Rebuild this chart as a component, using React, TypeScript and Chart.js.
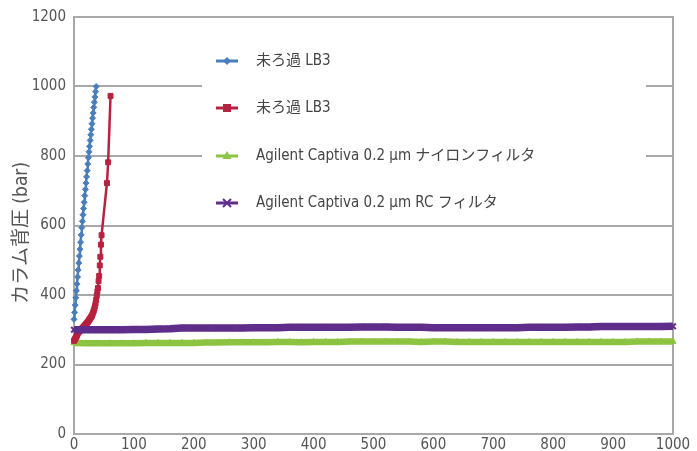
import React, { useEffect, useRef } from "react";
import { Chart, registerables } from "chart.js";

Chart.register(...registerables);

// ---- data ----
const blueX = [0, 1, 2, 3, 4, 5, 6, 7, 8, 9, 10, 11, 12, 13, 14, 15, 16, 17, 18, 19, 20, 21, 22, 23, 24, 25, 26, 27, 28, 29, 30, 31, 32, 33, 34, 35, 36, 37];
const blueY = [330, 350, 371, 392, 412, 432, 452, 472, 492, 512, 532, 552, 573, 594, 612, 631, 649, 667, 686, 704, 722, 740, 758, 777, 795, 812, 828, 845, 861, 877, 893, 909, 924, 940, 955, 970, 985, 1000];

const redX = [0, 1, 2, 3, 4, 5, 6, 7, 8, 9, 10, 11, 12, 13, 14, 15, 16, 17, 18, 19, 20, 21, 22, 23, 24, 25, 26, 27, 28, 29, 30, 31, 32, 33, 34, 35, 36, 37, 38, 39, 40, 41, 42, 43, 44, 45, 46, 55, 57, 61];
const redY = [268, 271, 274, 277, 280, 284, 288, 292, 294, 296, 298, 300, 301, 303, 304, 306, 308, 310, 312, 314, 316, 318, 320, 322, 325, 327, 330, 332, 335, 338, 341, 345, 350, 355, 361, 368, 376, 386, 398, 410, 420, 440, 455, 485, 510, 545, 572, 722, 782, 973];

const bandX = [0, 20, 40, 60, 80, 100, 120, 140, 160, 180, 200, 220, 240, 260, 280, 300, 320, 340, 360, 380, 400, 420, 440, 460, 480, 500, 520, 540, 560, 580, 600, 620, 640, 660, 680, 700, 720, 740, 760, 780, 800, 820, 840, 860, 880, 900, 920, 940, 960, 980, 1000];
const greenY = [262, 261, 261, 261, 261, 261, 262, 262, 262, 262, 262, 263, 263, 264, 264, 264, 264, 265, 265, 264, 265, 265, 265, 266, 266, 266, 266, 266, 266, 265, 266, 266, 265, 265, 265, 265, 265, 265, 265, 265, 265, 265, 265, 265, 265, 265, 265, 266, 266, 266, 266];
const purpleY = [300, 300, 300, 300, 300, 301, 301, 302, 303, 305, 305, 305, 305, 305, 305, 306, 306, 306, 307, 307, 307, 307, 307, 307, 308, 308, 308, 307, 307, 307, 306, 306, 306, 306, 306, 306, 306, 306, 307, 307, 307, 307, 308, 308, 309, 309, 309, 309, 309, 309, 310];

const seriesNames = [
  "未ろ過 LB3",
  "未ろ過 LB3",
  "Agilent Captiva 0.2 μm ナイロンフィルタ",
  "Agilent Captiva 0.2 μm RC フィルタ",
];
const yTitle = "カラム背圧 (bar)";
const xMin = 0, xMax = 1000, xStep = 100;
const yMin = 0, yMax = 1200, yStep = 200;

const COLORS = ["#4a7ebb", "#b8213f", "#8cc341", "#5f2d8a"];
const MARKERS = ["rectRot", "rect", "triangle", "crossRot"];

const NARROW = '"Liberation Sans Narrow", "DejaVu Sans Condensed", "Noto Sans CJK JP", sans-serif';
const TEXT = "#555555";
const GRID = "#a8a8a8";

function pts(xs: number[], ys: number[]) {
  return xs.map((x, i) => ({ x, y: ys[i] }));
}

function drawMarker(ctx: CanvasRenderingContext2D, kind: string, x: number, y: number, color: string) {
  ctx.save();
  ctx.fillStyle = color;
  ctx.strokeStyle = color;
  ctx.lineWidth = 2;
  ctx.beginPath();
  if (kind === "rectRot") {
    const r = 4;
    ctx.moveTo(x, y - r); ctx.lineTo(x + r, y); ctx.lineTo(x, y + r); ctx.lineTo(x - r, y); ctx.closePath(); ctx.fill();
  } else if (kind === "rect") {
    ctx.fillRect(x - 4, y - 4, 8, 8);
  } else if (kind === "triangle") {
    ctx.moveTo(x, y - 5); ctx.lineTo(x + 4.5, y + 3); ctx.lineTo(x - 4.5, y + 3); ctx.closePath(); ctx.fill();
  } else {
    const r = 4;
    ctx.moveTo(x - r, y - r); ctx.lineTo(x + r, y + r); ctx.moveTo(x + r, y - r); ctx.lineTo(x - r, y + r); ctx.stroke();
  }
  ctx.restore();
}

const framePlugin = {
  id: "frameAndLegend",
  beforeDatasetsDraw(chart: any) {
    const { ctx, chartArea } = chart;
    ctx.save();
    // right border
    ctx.strokeStyle = GRID;
    ctx.lineWidth = 2;
    ctx.beginPath();
    ctx.moveTo(chartArea.right, chartArea.top - 1);
    ctx.lineTo(chartArea.right, chartArea.bottom);
    ctx.stroke();
    // legend background
    ctx.fillStyle = "#ffffff";
    ctx.fillRect(202, 36, 444, 186);
    ctx.restore();
  },
  afterDatasetsDraw(chart: any) {
    const { ctx } = chart;
    const rows = [61, 108, 156, 203];
    ctx.save();
    seriesNames.forEach((name, i) => {
      const y = rows[i];
      ctx.strokeStyle = COLORS[i];
      ctx.lineWidth = 3;
      ctx.beginPath();
      ctx.moveTo(216, y);
      ctx.lineTo(238, y);
      ctx.stroke();
      drawMarker(ctx, MARKERS[i], 227, y, COLORS[i]);
      ctx.fillStyle = "#444444";
      ctx.font = "15px " + NARROW;
      ctx.textAlign = "left";
      ctx.textBaseline = "middle";
      ctx.fillText(name, 256, y);
    });
    // y axis title
    ctx.translate(22, 233);
    ctx.rotate(-Math.PI / 2);
    ctx.fillStyle = TEXT;
    ctx.font = "19px " + NARROW;
    ctx.textAlign = "center";
    ctx.textBaseline = "middle";
    ctx.fillText(yTitle, 0, 0);
    ctx.restore();
  },
};

export default function App() {
  const ref = useRef<HTMLCanvasElement | null>(null);
  useEffect(() => {
    if (!ref.current) return;
    const chart = new Chart(ref.current, {
      type: "line",
      data: {
        datasets: [
          {
            label: seriesNames[0],
            data: pts(blueX, blueY),
            borderColor: COLORS[0],
            backgroundColor: COLORS[0],
            borderWidth: 2.5,
            pointStyle: "rectRot",
            pointRadius: 3,
            pointBorderWidth: 1,
            order: 0,
            clip: false as any,
          },
          {
            label: seriesNames[1],
            data: pts(redX, redY),
            borderColor: COLORS[1],
            backgroundColor: COLORS[1],
            borderWidth: 2.5,
            pointStyle: "rect",
            pointRadius: 3.5,
            pointBorderWidth: 1,
            order: 2,
            clip: false as any,
          },
          {
            label: seriesNames[2],
            data: pts(bandX, greenY),
            borderColor: COLORS[2],
            backgroundColor: COLORS[2],
            borderWidth: 6.5,
            pointStyle: "triangle",
            pointRadius: 3.5,
            pointBorderWidth: 1,
            order: 3,
            clip: false as any,
          },
          {
            label: seriesNames[3],
            data: pts(bandX, purpleY),
            borderColor: COLORS[3],
            backgroundColor: COLORS[3],
            borderWidth: 7.5,
            pointStyle: "crossRot",
            pointRadius: 4,
            pointBorderWidth: 2,
            order: 1,
            clip: false as any,
          },
        ],
      },
      options: {
        responsive: false,
        animation: false,
        events: [],
        layout: { padding: { top: 14, right: 24, left: 0, bottom: 0 } },
        plugins: { legend: { display: false }, tooltip: { enabled: false } },
        scales: {
          x: {
            type: "linear",
            min: xMin,
            max: xMax,
            ticks: { stepSize: xStep, color: TEXT, font: { family: NARROW, size: 15 }, padding: 2, maxRotation: 0, callback: (v: any) => String(v) },
            grid: { display: false, drawTicks: false },
            border: { display: true, color: GRID, width: 2 },
            afterFit: (s: any) => { s.height = 17; },
          },
          y: {
            type: "linear",
            min: yMin,
            max: yMax,
            ticks: { stepSize: yStep, color: TEXT, font: { family: NARROW, size: 15 }, padding: 8, callback: (v: any) => String(v) },
            grid: { color: GRID, lineWidth: 2, drawTicks: false },
            border: { display: true, color: GRID, width: 2 },
            afterFit: (s: any) => { s.width = 74; },
          },
        },
      },
      plugins: [framePlugin],
    } as any);
    return () => chart.destroy();
  }, []);
  return (
    <div style={{ position: "fixed", left: 0, top: 0, width: 697, height: 451, background: "#fff" }}>
      <canvas ref={ref} width={697} height={451} style={{ display: "block" }} />
    </div>
  );
}
